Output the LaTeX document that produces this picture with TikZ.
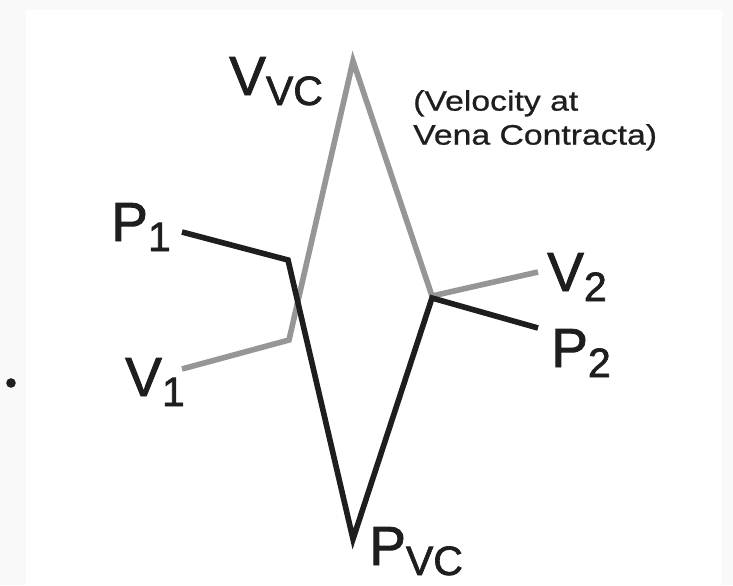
\documentclass[tikz,border=0pt]{standalone}
\usepackage{fontspec}
\setmainfont{Liberation Sans}
\newfontfamily\lblfont[FakeBold=1.6]{Liberation Sans}
\newfontfamily\notefont[FakeStretch=1.2,FakeBold=0.8]{Liberation Sans}
\usepackage{xcolor}
\usetikzlibrary{positioning}
\definecolor{velgray}{RGB}{150, 150, 150}
\definecolor{presblack}{RGB}{30, 30, 30}
\definecolor{edgegray}{RGB}{249, 249, 249}
\newcommand{\lowtxt}[1]{\raisebox{-0.3cm}{\fontsize{35}{36}\selectfont #1}}

\begin{document}
\begin{tikzpicture}[
    x=0.03cm, y=-0.03cm,
    profile/.style={draw=#1, line width=4.8pt, line join=miter},
    lbl/.style={anchor=base west, inner sep=0pt, text=presblack,
                font=\lblfont\fontsize{47}{50}\selectfont},
]
\useasboundingbox (0,0) rectangle (733,585);

% faint border strips
\fill[edgegray] (0,0) rectangle (26,585);
\fill[edgegray] (0,0) rectangle (733,10);
\fill[edgegray] (722,0) rectangle (733,585);
\fill[presblack] (11,383) circle (4.8);

% velocity profile
\coordinate (v1s) at (182,369);
\coordinate (v1k) at (289,340);
\coordinate (vvc) at (353,61);
\coordinate (v2j) at (432,296);
\coordinate (v2e) at (538,272);

% pressure profile
\coordinate (p1s) at (182,232);
\coordinate (p1k) at (288,260);
\coordinate (pvc) at (353,539);
\coordinate (p2j) at (432,298);
\coordinate (p2e) at (538,328);

\draw[profile=velgray] (v1s) -- (v1k) -- (vvc) -- (v2j) -- (v2e);
\draw[profile=presblack] (p1s) -- (p1k) -- (pvc) -- (p2j) -- (p2e);

\node[lbl] (lvvc) at (229,95) {V\lowtxt{VC}};
\node[lbl] (lp1) at (111,241) {P\lowtxt{1}};
\node[lbl] (lv1) at (125,396) {V\lowtxt{1}};
\node[lbl] (lv2) at (547,291) {V\lowtxt{2}};
\node[lbl] (lp2) at (551,367) {P\lowtxt{2}};
\node[lbl] (lpvc) at (369,565) {P\lowtxt{VC}};

\node[anchor=north west, inner sep=0pt, align=left, text=presblack,
      font=\notefont\fontsize{24}{29}\selectfont] (note) at (413,90)
      {(Velocity at\\Vena Contracta)};

\end{tikzpicture}
\end{document}
